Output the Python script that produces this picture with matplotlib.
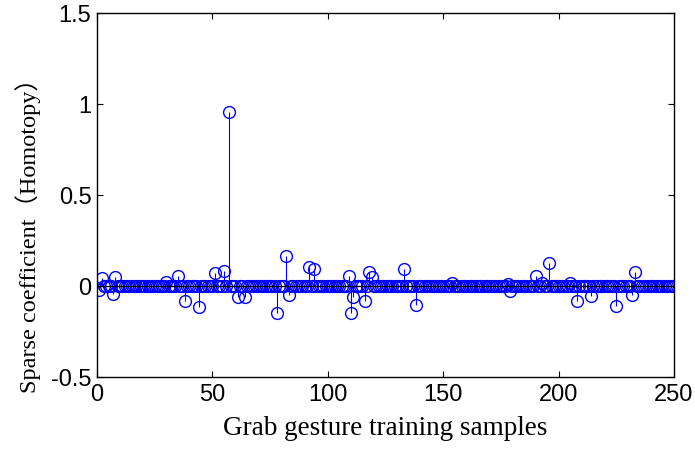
import numpy as np
import matplotlib
matplotlib.use('Agg')
import matplotlib.pyplot as plt

# sample indices 1..250, nonzero coefficients
n_samples = 250
nz_index = [1, 2, 7, 8, 30, 35, 38, 44, 51, 55, 57, 61, 64, 78, 82, 83,
            92, 94, 109, 110, 111, 116, 118, 119, 133, 138, 154, 178, 179,
            190, 193, 196, 205, 208, 214, 225, 232, 233]
nz_value = [-0.02, 0.045, -0.044, 0.05, 0.02, 0.055, -0.083, -0.117, 0.073,
            0.081, 0.955, -0.062, -0.058, -0.15, 0.165, -0.05, 0.106, 0.093,
            0.057, -0.147, -0.062, -0.083, 0.075, 0.051, 0.093, -0.104,
            0.015, 0.012, -0.025, 0.055, 0.015, 0.128, 0.018, -0.083,
            -0.055, -0.11, -0.05, 0.079]

yticks = [-0.5, 0, 0.5, 1, 1.5]
ytick_labels = ['-0.5', '0', '0.5', '1', '1.5']
xticks = [0, 50, 100, 150, 200, 250]

x = np.arange(1, n_samples + 1)
coef = np.zeros(n_samples)
coef[np.array(nz_index) - 1] = nz_value

fig = plt.figure(figsize=(6.95, 4.5), dpi=100)
ax = fig.add_axes([0.1396, 0.1622, 0.8302, 0.8089])

markers, stems, base = ax.stem(x, coef, linefmt='b-', markerfmt='bo', basefmt='k-')
plt.setp(stems, linewidth=0.8, color=(0, 0, 1))
plt.setp(markers, markersize=8.5, markerfacecolor='none',
         markeredgecolor=(0, 0, 1), markeredgewidth=1.0)
plt.setp(base, linewidth=1.0, color='black')
base.set_xdata([0, 250])
base.set_zorder(3)

ax.set_xlim(0, 250)
ax.set_ylim(-0.5, 1.5)
ax.set_xticks(xticks)
ax.set_yticks(yticks)
ax.set_yticklabels(ytick_labels)
ax.tick_params(direction='in', length=4, width=0.8, top=True, right=True,
               labelsize=17)
ax.tick_params(axis='x', pad=5)
ax.tick_params(axis='y', pad=4)
for lab in ax.get_xticklabels() + ax.get_yticklabels():
    lab.set_family('Liberation Sans')
for s in ax.spines.values():
    s.set_linewidth(1.0)

ax.set_xlabel('Grab gesture training samples', fontsize=19.5,
              family='Liberation Serif', labelpad=7)
ax.set_ylabel('Sparse coefficient\uff08Homotopy\uff09', fontsize=17.5,
              family=['Liberation Serif', 'Noto Sans CJK SC'])
ax.yaxis.set_label_coords(-0.097, 0.405)

fig.savefig('out.png', dpi=100)
